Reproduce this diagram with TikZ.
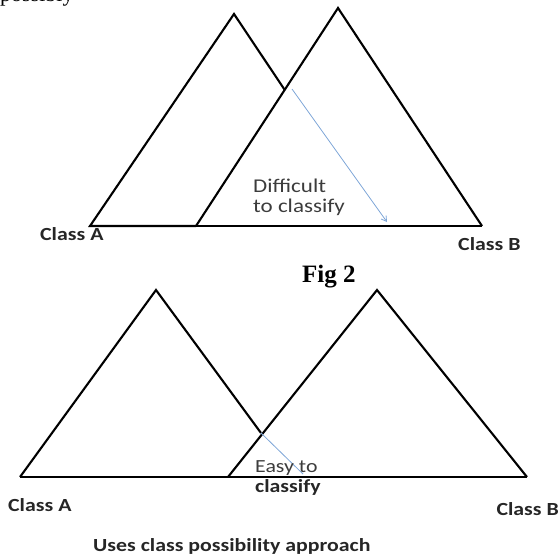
\documentclass[tikz,border=0pt]{standalone}
\usepackage{fontspec}
\usepackage{graphicx}
\newfontfamily\calfont{Carlito}
\newfontfamily\timesfont{Liberation Serif}
\usetikzlibrary{arrows.meta}
\definecolor{arrowblue}{RGB}{125,165,215}
\definecolor{txtgray}{RGB}{60,60,60}
\newcommand\wide[1]{\scalebox{1.18}[1]{#1}}
\tikzset{
  edge/.style={line width=2.1pt, line join=miter, black},
  base/.style={line width=2.6pt, black},
  hint/.style={line width=0.8pt, arrowblue},
  lab/.style={inner sep=0pt, anchor=base west, font=\calfont\bfseries\fontsize{18.5}{20}\selectfont, text=black!85},
  note/.style={inner sep=0pt, anchor=base west, font=\calfont\fontsize{19.5}{21}\selectfont, text=txtgray},
}
\begin{document}
\begin{tikzpicture}[x=1pt,y=-1pt]
\useasboundingbox (0,0) rectangle (560,555);
\begin{scope}
\clip (0,0) rectangle (560,555);
\node[anchor=base west, inner sep=0pt, font=\timesfont\fontsize{22}{24}\selectfont] (frag) at (0,1) {possibly};
\end{scope}
% ---------- top figure ----------
\coordinate (a1l) at (90,226);
\coordinate (a1t) at (234,14);
\coordinate (b1l) at (196,226);
\coordinate (b1t) at (338,8);
\coordinate (b1r) at (482,226);
\coordinate (x1) at (284.8,90);
\coordinate (h1s) at (292,89);
\coordinate (h1e) at (387,222);
\draw[edge] (x1) -- (a1t) -- (a1l) -- (b1l);
\draw[edge] (b1l) -- (b1t) -- (b1r);
\draw[base] (b1l) -- (b1r);
\draw[hint, -{Straight Barb[length=5pt,width=6pt]}] (h1s) -- (h1e);
\node[note, anchor=north west, align=left, font=\calfont\fontsize{19.5}{20}\selectfont] (diff) at (253,179) {\wide{Difficult}\\\wide{to classify}};
\node[lab] (cA1) at (40,240) {\wide{Class A}};
\node[lab] (cB1) at (458,250) {\wide{Class B}};
\node[inner sep=0pt, anchor=base west, font=\timesfont\bfseries\fontsize{25}{28}\selectfont] (fig) at (302,282) {Fig 2};
% ---------- bottom figure ----------
\coordinate (a2l) at (20,477);
\coordinate (a2t) at (156,290);
\coordinate (b2l) at (228,477);
\coordinate (b2t) at (377,290);
\coordinate (b2r) at (527,477);
\coordinate (x2) at (261,433);
\coordinate (h2e) at (303,474);
\draw[edge] (x2) -- (a2t) -- (a2l);
\draw[edge] (b2l) -- (b2t) -- (b2r);
\draw[base] (a2l) -- (b2r);
\draw[hint] (x2) -- (h2e);
\node[note, font=\calfont\fontsize{18.5}{20}\selectfont] (easy) at (255,472) {\wide{Easy to}};
\node[lab] (cls) at (255,492) {\wide{classify}};
\node[lab] (cA2) at (8,511) {\wide{Class A}};
\node[lab, anchor=base east] (cB2) at (559,515) {\wide{Class B}};
\node[lab] (uses) at (93,551) {\wide{Uses class possibility approach}};
\end{tikzpicture}
\end{document}
